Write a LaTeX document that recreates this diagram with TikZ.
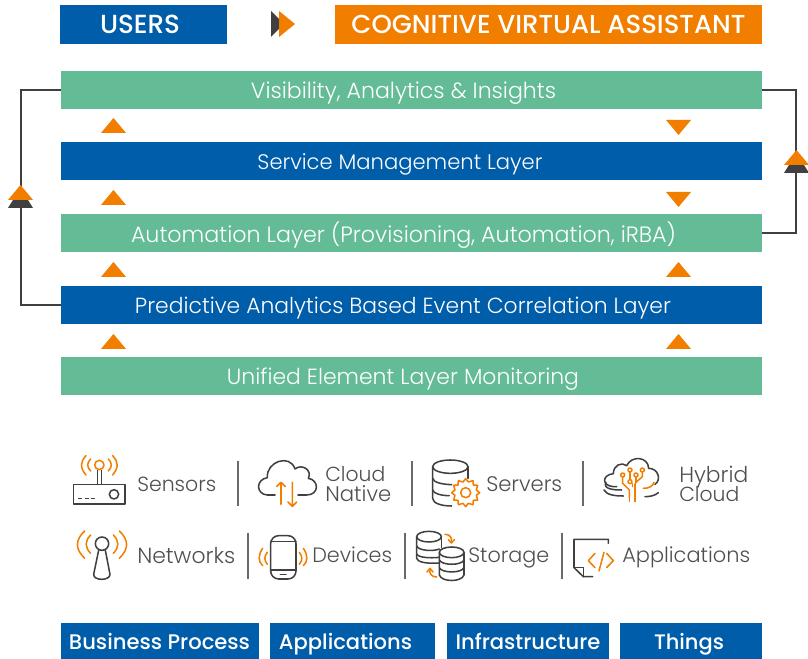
\documentclass[tikz,border=0pt]{standalone}
\usepackage{fontspec}
\usepackage{graphicx}
\setmainfont{Poppins}[UprightFont=* Light,BoldFont=* Medium]
\usetikzlibrary{arrows.meta}
\definecolor{vblue}{HTML}{005DA9}
\definecolor{vorange}{HTML}{F27E00}
\definecolor{vgreen}{HTML}{63BC96}
\definecolor{vdark}{HTML}{404040}
\definecolor{vtext}{HTML}{4F4F4F}
\newcommand\fitw[2]{\resizebox{\dimexpr #1\dimexpr.75pt\relax\relax}{!}{\strut #2}}
\tikzset{
  bar/.style={anchor=north west,inner sep=0pt,outer sep=0pt,minimum height=28.5pt,text=white},
  headbar/.style={bar,minimum height=29.25pt},
  footbar/.style={bar,fill=vblue,minimum height=27pt},
  gbar/.style={bar,fill=vgreen,minimum width=525.75pt},
  bbar/.style={bar,fill=vblue,minimum width=525.75pt},
  tw/.style={text=white,yshift=-2.1pt},
  ftw/.style={text=white,yshift=-1.6pt},
  lbl/.style={anchor=west,inner sep=0pt,text=vtext,yshift=-2.1pt},
  tri/.style={fill=vorange,draw=none},
  conn/.style={draw=vdark,line width=1.5pt,line cap=butt},
  divider/.style={draw=vtext!85,line width=.95pt},
  ic/.style={draw=vdark,line width=1.15pt,line cap=round,line join=round},
  io/.style={draw=vorange,line width=1.15pt,line cap=round,line join=round},
}
\begin{document}
\begin{tikzpicture}[x=.75pt,y=-.75pt]
\useasboundingbox (0,0) rectangle (808,659);
% header
\node[headbar,fill=vblue,minimum width=125.25pt] (users) at (60,5) {};
\node[tw] at (140,24.5) {\fitw{80}{\bfseries USERS}};
\node[headbar,fill=vorange,minimum width=320.25pt] (cva) at (335,5) {};
\node[tw] at (548.5,24.5) {\fitw{394}{\bfseries COGNITIVE VIRTUAL ASSISTANT}};
\fill[vdark] (271,11) -- (284,24) -- (271,37) -- cycle;
\fill[vorange] (279,11) -- (295,24) -- (279,37) -- cycle;
% layers
\node[gbar] (vis) at (61,71) {};
\node[bbar] (svc) at (61,142) {};
\node[gbar] (aut) at (61,214) {};
\node[bbar] (pred) at (61,286) {};
\node[gbar] (uni) at (61,357) {};
\node[tw] at (403.5,90.5) {\fitw{305}{Visibility, Analytics \& Insights}};
\node[tw] at (400,161.5) {\fitw{285}{Service Management Layer}};
\node[tw] at (403.5,233) {\fitw{545}{Automation Layer (Provisioning, Automation, iRBA)}};
\node[tw] at (403,305) {\fitw{536}{Predictive Analytics Based Event Correlation Layer}};
\node[tw] at (403,376.5) {\fitw{352}{Unified Element Layer Monitoring}};
% loop connectors
\coordinate (lc) at (21,197);
\coordinate (rc) at (796,161);
\draw[conn] (vis.west) -| (lc) |- (pred.west);
\draw[conn] (vis.east) -| (rc) |- (aut.east);
\foreach \x/\y in {8/200,784/165}{
  \fill[vdark] (\x+5,\y) -- (\x+20,\y) -- (\x+25,\y+8) -- (\x,\y+8) -- cycle;
  \fill[tri] (\x,\y) -- (\x+12.5,\y-15) -- (\x+25,\y) -- cycle;
}
% small triangles
\foreach \x/\y in {101/133,101/205,101/277,101/349,666/277,666/349}
  \fill[tri] (\x,\y) -- (\x+12.5,\y-15) -- (\x+25,\y) -- cycle;
\foreach \x/\y in {666/120,666/192}
  \fill[tri] (\x,\y) -- (\x+12.5,\y+15) -- (\x+25,\y) -- cycle;
% dividers
\foreach \x/\a/\b in {238/461/506,412/461/506,583/461/506,248/533/579,405/533/579,562/533/579}
  \draw[divider] (\x,\a) -- (\x,\b);
% labels
\node[lbl] at (137,484) {\fitw{79}{Sensors}};
\node[lbl] at (325,474) {\fitw{60}{Cloud}};
\node[lbl] at (325,494) {\fitw{66}{Native}};
\node[lbl] at (486,484) {\fitw{76}{Servers}};
\node[lbl] at (679,474) {\fitw{69}{Hybrid}};
\node[lbl] at (679,494) {\fitw{60}{Cloud}};
\node[lbl] at (137,555) {\fitw{98}{Networks}};
\node[lbl] at (312,555) {\fitw{80}{Devices}};
\node[lbl] at (468,555) {\fitw{81}{Storage}};
\node[lbl] at (622,555) {\fitw{128}{Applications}};
% icons, left half (zoomed units)
\begin{scope}[shift={(60,445)},x=.25pt,y=-.25pt]
  % sensors
  \draw[ic] (40,118) rectangle (195,177);
  \draw[ic] (162,148) circle[radius=14];
  \draw[ic,dash pattern=on 3pt off 1.9pt,line cap=butt] (55,160) -- (105,160);
  \draw[ic] (112,118) -- (112,76) (125,118) -- (125,76);
  \draw[io] (118,60) circle[radius=14];
  \draw[io] (78,32) .. controls (60,52) and (60,68) .. (78,90);
  \draw[io] (92,42) .. controls (80,54) and (80,66) .. (92,78);
  \draw[io] (145,42) .. controls (157,54) and (157,66) .. (145,78);
  \draw[io] (158,32) .. controls (176,52) and (176,68) .. (158,90);
  % cloud native
  \draw[ic] (645,150) -- (622,150) .. controls (588,148) and (586,104) .. (622,98)
    .. controls (618,50) and (690,25) .. (705,72) .. controls (725,55) and (758,75) .. (745,100)
    .. controls (778,105) and (778,150) .. (740,150) -- (714,150);
  \draw[io] (663,178) -- (663,112) (650,125) -- (663,112) -- (676,125);
  \draw[io] (697,112) -- (697,184) (684,171) -- (697,184) -- (710,171);
  % networks
  \draw[ic] (126,296) circle[radius=20];
  \draw[ic] (116,316) -- (101,388) .. controls (100,408) and (150,408) .. (150,388) -- (136,316);
  \draw[io] (74,258) .. controls (45,285) and (45,312) .. (74,340);
  \draw[io] (92,270) .. controls (74,288) and (74,307) .. (92,325);
  \draw[io] (160,270) .. controls (178,288) and (178,307) .. (160,325);
  \draw[io] (178,258) .. controls (207,285) and (207,312) .. (178,340);
  % devices
  \draw[ic] (632,272) [rounded corners=6pt] rectangle (708,402);
  \draw[ic] (632,290) -- (708,290) (632,375) -- (708,375);
  \draw[ic] (661,388) -- (678,388);
  \draw[io] (622,322) .. controls (612,334) and (612,346) .. (622,358);
  \draw[io] (608,310) .. controls (594,330) and (594,350) .. (608,362);
  \draw[io] (718,322) .. controls (728,334) and (728,346) .. (718,358);
  \draw[io] (730,310) .. controls (744,330) and (744,350) .. (730,362);
\end{scope}
% icons, right half (zoomed units)
\begin{scope}[shift={(400,445)},x=.25pt,y=-.25pt]
  % servers
  \draw[ic] (151,65) ellipse[x radius=53,y radius=20];
  \draw[ic] (98,65) -- (98,160) .. controls (98,175) and (125,183) .. (155,183);
  \draw[ic] (204,65) -- (204,100);
  \draw[ic] (98,100) .. controls (100,112) and (125,118) .. (155,119);
  \draw[ic] (98,135) .. controls (100,146) and (125,152) .. (148,152);
  \draw[io] (197,143) circle[radius=15];
  \draw[io] plot[smooth cycle,tension=0] coordinates {
    (197+0,143-42) (197+8,143-32) (197+22,143-36) (197+23,143-23) (197+36,143-22) (197+32,143-8)
    (197+42,143+0) (197+32,143+8) (197+36,143+22) (197+23,143+23) (197+22,143+36) (197+8,143+32)
    (197+0,143+42) (197-8,143+32) (197-22,143+36) (197-23,143+23) (197-36,143+22) (197-32,143+8)
    (197-42,143+0) (197-32,143-8) (197-36,143-22) (197-23,143-23) (197-22,143-36) (197-8,143-32)};
  % hybrid cloud
  \draw[ic] (650,125) -- (640,125) .. controls (605,122) and (605,90) .. (640,86)
    .. controls (640,60) and (665,50) .. (680,62) .. controls (695,30) and (745,35) .. (746,70)
    .. controls (775,70) and (785,105) .. (765,118);
  \draw[ic] (618,112) .. controls (608,132) and (640,135) .. (665,135);
  \draw[ic] (612,135) .. controls (620,150) and (645,153) .. (670,153);
  \draw[ic] (775,143) .. controls (765,152) and (750,155) .. (735,155);
  \draw[io] (730,130) .. controls (745,130) and (758,125) .. (762,112);
  \foreach \p in {(668,90),(690,75),(727,75),(708,90),(690,110)}
    \draw[io] \p circle[radius=6];
  \draw[io] (668,96) -- (668,115) -- (688,135) -- (688,158);
  \draw[io] (690,81) -- (690,104);
  \draw[io] (698,116) -- (698,125);
  \draw[io] (708,96) -- (708,112) -- (705,118) -- (705,158);
  \draw[io] (727,81) -- (727,95) -- (708,112);
  \draw[io,dash pattern=on 3pt off 3pt,line cap=butt] (688,158) -- (688,180) (705,158) -- (705,172);
  % storage
  \draw[ic] (87,275) ellipse[x radius=37,y radius=16];
  \draw[ic] (50,275) -- (50,340) .. controls (52,350) and (75,357) .. (118,354);
  \draw[ic] (124,275) -- (124,308);
  \draw[ic] (50,303) .. controls (55,317) and (100,320) .. (118,312);
  \draw[ic] (50,327) .. controls (55,338) and (90,340) .. (118,337);
  \draw[ic] (155,322) ellipse[x radius=37,y radius=16];
  \draw[ic] (118,322) -- (118,390) .. controls (125,412) and (185,412) .. (192,390) -- (192,322);
  \draw[ic] (118,345) .. controls (125,362) and (185,362) .. (192,345);
  \draw[ic] (118,368) .. controls (125,385) and (185,385) .. (192,368);
  \draw[io] (135,268) .. controls (150,268) and (157,278) .. (154,293);
  \draw[io] (145,284) -- (154,294) -- (163,284);
  \draw[io] (110,396) .. controls (95,396) and (87,386) .. (90,372);
  \draw[io] (81,381) -- (90,370) -- (99,381);
  % applications
  \draw[ic] (625,295) -- (625,283) -- (522,283) -- (522,368) -- (550,395) -- (578,395);
  \draw[ic] (522,367) -- (550,367) -- (550,395);
  \draw[io] (585,325) -- (565,347) -- (585,368);
  \draw[io] (612,322) -- (597,378);
  \draw[io] (620,325) -- (640,347) -- (620,368);
\end{scope}
% footer
\node[footbar,minimum width=148.5pt] (fa) at (61,623) {};
\node[footbar,minimum width=123.75pt] (fb) at (270,623) {};
\node[footbar,minimum width=121.5pt] (fc) at (447,623) {};
\node[footbar,minimum width=106.5pt] (fd) at (620,623) {};
\node[ftw] at (159.5,642) {\fitw{181}{\bfseries Business Process}};
\node[ftw] at (345.5,642) {\fitw{133}{\bfseries Applications}};
\node[ftw] at (528,642) {\fitw{145}{\bfseries Infrastructure}};
\node[ftw] at (689,642) {\fitw{70}{\bfseries Things}};
\end{tikzpicture}
\end{document}
